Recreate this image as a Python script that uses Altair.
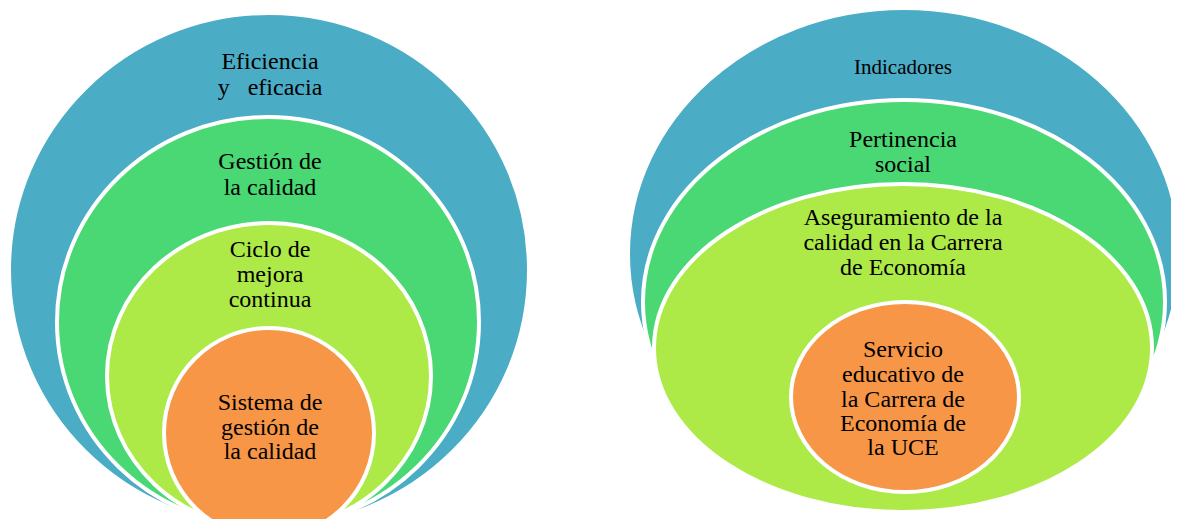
import altair as alt
import pandas as pd

# ---------------- data ----------------
fills = ["#4BACC6", "#4AD874", "#ADEA47", "#F79646"]

# left diagram (image pixel coordinates): centre, radii
left_cx = [269, 268, 269, 269]
left_cy = [270, 322, 376, 433]
left_rx = [260, 211, 162, 105]
left_ry = [257, 205, 153, 105]

# right diagram
right_cx = [904, 904, 903, 905]
right_cy = [254, 302, 348, 397]
right_rx = [276, 261, 249, 114]
right_ry = [246, 202, 164, 95]

left_lines = ["Eficiencia", "y\u00a0\u00a0\u00a0eficacia",
              "Gestión de", "la calidad",
              "Ciclo de", "mejora", "continua",
              "Sistema de", "gestión de", "la calidad"]
left_line_y = [62, 88, 162, 188, 250, 275, 300, 403, 428, 452]
left_line_size = [24] * 10

right_lines = ["Indicadores",
               "Pertinencia", "social",
               "Aseguramiento de la", "calidad en la Carrera", "de Economía",
               "Servicio", "educativo de", "la Carrera de", "Economía de", "la UCE"]
right_line_y = [68, 140, 165, 218, 243, 268, 350, 375, 400, 424, 448]
right_line_size = [21] + [24] * 10

# ---------------- shape construction ----------------
def ellipse_path(rx, ry):
    s = max(rx, ry)
    a, b = rx / s, ry / s
    d = (f"M {-a:.4f} 0 A {a:.4f} {b:.4f} 0 1 1 {a:.4f} 0 "
         f"A {a:.4f} {b:.4f} 0 1 1 {-a:.4f} 0 Z")
    return d, s


rows = []
order = 0
for cxs, cys, rxs, rys in [(left_cx, left_cy, left_rx, left_ry),
                           (right_cx, right_cy, right_rx, right_ry)]:
    for i in range(4):
        d, s = ellipse_path(rxs[i], rys[i])
        rows.append(dict(x=cxs[i], y=cys[i], path=d, size=(2 * s) ** 2,
                         fill=fills[i], order=order))
        order += 1
shapes = pd.DataFrame(rows)

texts = pd.DataFrame(
    [dict(label=l, x=270, y=y, fs=f) for l, y, f in zip(left_lines, left_line_y, left_line_size)]
    + [dict(label=l, x=903, y=y, fs=f) for l, y, f in zip(right_lines, right_line_y, right_line_size)]
)

xs = alt.Scale(domain=[8, 1171], nice=False, zero=False)
ys = alt.Scale(domain=[8, 519], nice=False, zero=False, reverse=True)

shape_layer = alt.Chart(shapes).mark_point(
    filled=True, opacity=1, fillOpacity=1, stroke="white", strokeWidth=4, strokeOpacity=1
).encode(
    x=alt.X("x:Q", scale=xs, axis=None),
    y=alt.Y("y:Q", scale=ys, axis=None),
    shape=alt.Shape("path:N", scale=None),
    size=alt.Size("size:Q", scale=None),
    fill=alt.Fill("fill:N", scale=None),
    order=alt.Order("order:Q"),
)

text_layer = alt.Chart(texts).mark_text(
    font="Liberation Serif", color="black",
    align="center", baseline="middle"
).encode(
    x=alt.X("x:Q", scale=xs, axis=None),
    y=alt.Y("y:Q", scale=ys, axis=None),
    text="label:N",
    size=alt.Size("fs:Q", scale=None),
)

chart = alt.layer(shape_layer, text_layer).properties(
    width=1163, height=511,
    autosize=alt.AutoSizeParams(type="none"),
    padding=0,
    background="white",
).configure_view(strokeWidth=0)

chart.save("out.html", embed_options={"renderer": "svg", "actions": False})
